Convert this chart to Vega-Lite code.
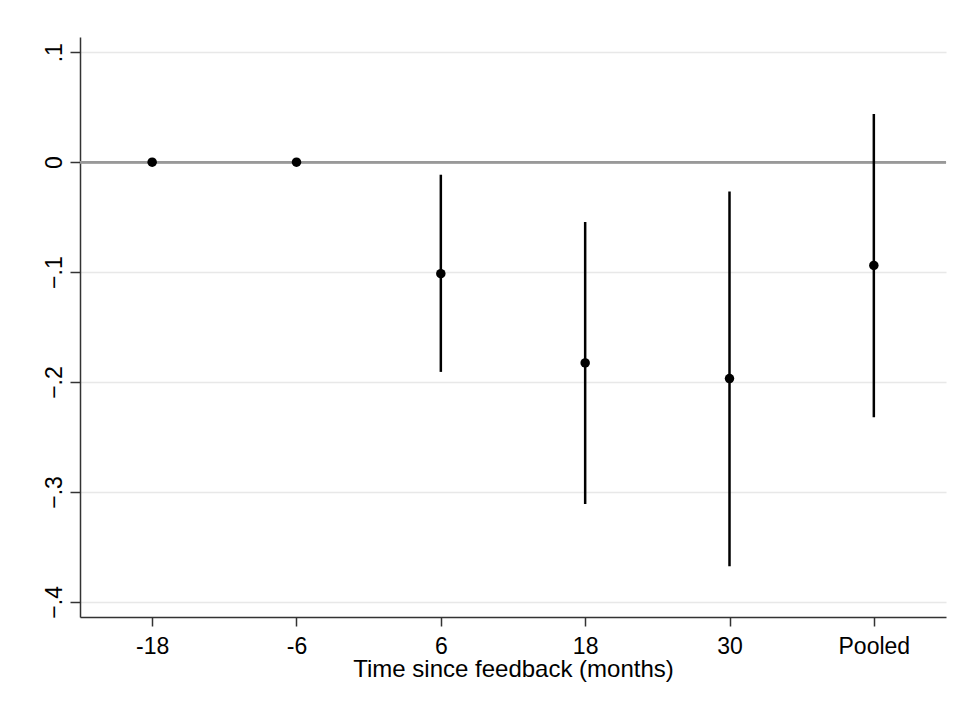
{
  "$schema": "https://vega.github.io/schema/vega-lite/v6.json",
  "autosize": {"type": "none"},
  "width": 866,
  "height": 580,
  "padding": {"left": 80, "top": 37, "right": 11, "bottom": 88},
  "background": "white",
  "config": {
    "view": {"stroke": null},
    "font": "Liberation Sans",
    "axis": {
      "labelFont": "Liberation Sans",
      "titleFont": "Liberation Sans",
      "labelColor": "black",
      "titleColor": "black",
      "domainColor": "#333333",
      "domainWidth": 1.5,
      "tickColor": "#333333",
      "tickWidth": 1.5
    }
  },
  "data": {
    "values": [
      {"t": "-18", "est": 0, "lo": null, "hi": null},
      {"t": "-6", "est": 0, "lo": null, "hi": null},
      {"t": "6", "est": -0.1014, "lo": -0.1908, "hi": -0.0114},
      {"t": "18", "est": -0.1826, "lo": -0.3111, "hi": -0.0544},
      {"t": "30", "est": -0.1969, "lo": -0.3676, "hi": -0.0266},
      {"t": "Pooled", "est": -0.0939, "lo": -0.2321, "hi": 0.0438}
    ]
  },
  "encoding": {
    "x": {
      "field": "t",
      "type": "ordinal",
      "sort": ["-18", "-6", "6", "18", "30", "Pooled"],
      "scale": {"type": "point", "padding": 0.5},
      "axis": {
        "title": "Time since feedback (months)",
        "labelAngle": 0,
        "labelFontSize": 23,
        "titleFontSize": 24,
        "titleFontWeight": "normal",
        "tickSize": 9,
        "labelPadding": 9,
        "titlePadding": -1,
        "grid": false
      }
    }
  },
  "layer": [
    {
      "mark": {"type": "rule", "color": "#999999", "strokeWidth": 2},
      "encoding": {
        "x": null,
        "y": {"datum": 0, "type": "quantitative"}
      }
    },
    {
      "transform": [{"filter": "datum.lo != null"}],
      "mark": {"type": "rule", "color": "black", "strokeWidth": 2.5},
      "encoding": {
        "y": {"field": "lo", "type": "quantitative"},
        "y2": {"field": "hi"}
      }
    },
    {
      "mark": {"type": "circle", "color": "black", "opacity": 1, "size": 90},
      "encoding": {
        "y": {
          "field": "est",
          "type": "quantitative",
          "scale": {"domain": [-0.4138, 0.1139], "nice": false, "zero": false},
          "axis": {
            "title": null,
            "values": [0.1, 0, -0.1, -0.2, -0.3, -0.4],
            "labelExpr": "datum.value == 0 ? '0' : replace(format(datum.value, '.1f'), '0.', '.')",
            "labelAngle": -90,
            "labelFontSize": 23,
            "tickSize": 10,
            "labelPadding": 4,
            "grid": true,
            "gridColor": "#e8e8e8",
            "gridWidth": 1.5
          }
        }
      }
    }
  ]
}
